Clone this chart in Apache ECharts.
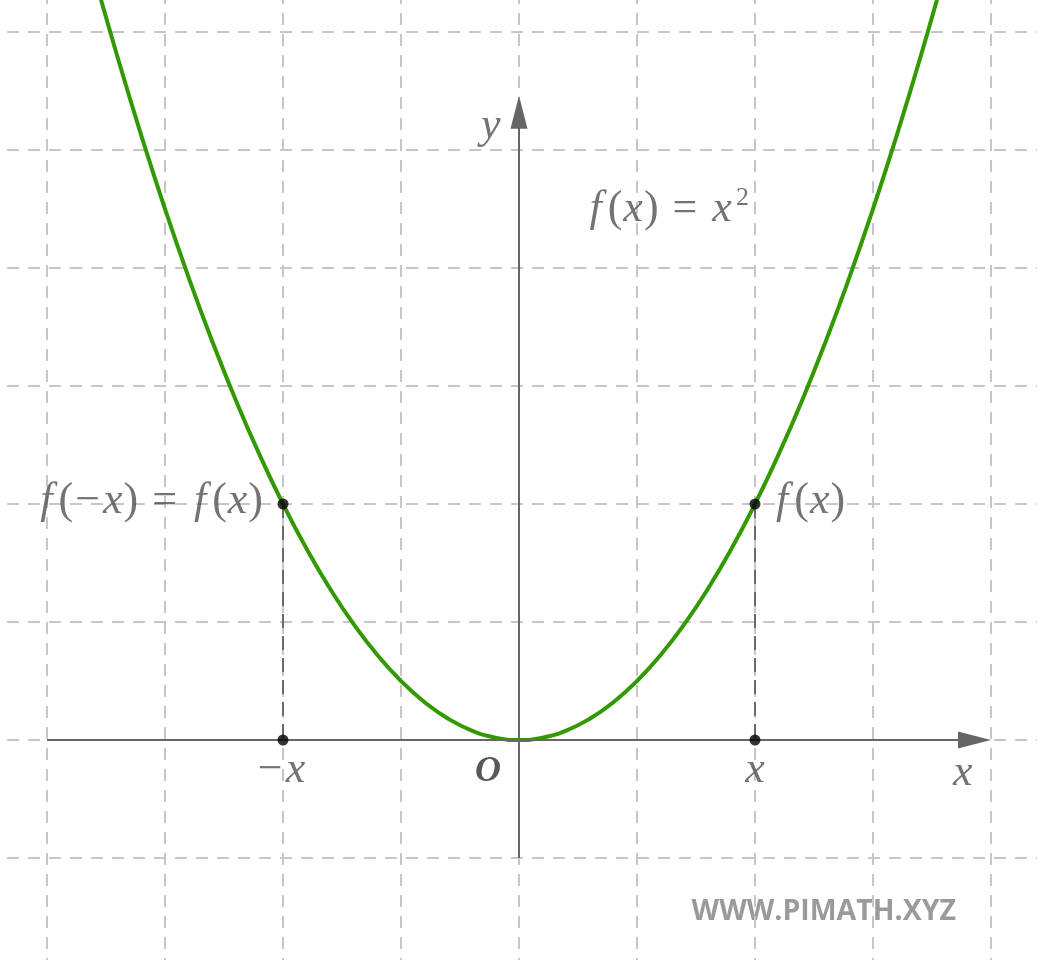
<!DOCTYPE html>
<html><head><meta charset="utf-8">
<script src="https://cdn.jsdelivr.net/npm/echarts@6/dist/echarts.min.js"></script>
<style>html,body{margin:0;padding:0;background:#fff}#c{width:1037px;height:960px}</style>
</head><body><div id="c"></div>
<script>
// sampled curve f(x) = x^2
const curveX = [-1.8,-1.7,-1.6,-1.5,-1.4,-1.3,-1.2,-1.1,-1.0,-0.9,-0.8,-0.7,-0.6,-0.5,-0.4,-0.3,-0.2,-0.1,0,0.1,0.2,0.3,0.4,0.5,0.6,0.7,0.8,0.9,1.0,1.1,1.2,1.3,1.4,1.5,1.6,1.7,1.8];
const curveY = [3.24,2.89,2.56,2.25,1.96,1.69,1.44,1.21,1.00,0.81,0.64,0.49,0.36,0.25,0.16,0.09,0.04,0.01,0,0.01,0.04,0.09,0.16,0.25,0.36,0.49,0.64,0.81,1.00,1.21,1.44,1.69,1.96,2.25,2.56,2.89,3.24];
// marked points
const pointX = [-1, 1, -1, 1];
const pointY = [1, 1, 0, 0];
// axes extents
const xAxisFrom = -2, xAxisTo = 1.93;
const yAxisFrom = -0.5, yAxisTo = 2.66;
// labels
const labelFuncText = '{f|f}{n|(}{i|x}{n|)}{op|=}{i|x}{s|2}';
const labelLeftText = '{f|f}{n|(}{m|−}{i|x}{n|)}{op|=}{f|f}{n|(}{i|x}{n|)}';
const labelRightText = '{f|f}{n|(}{i|x}{n|)}';

const font = 'Liberation Serif';
const txtCol = '#505050';
const fs = 44;
const rich = {
  f: {fontFamily: font, fontStyle: 'italic', fontSize: fs, color: txtCol, padding: [0, 6, 0, 3]},
  i: {fontFamily: font, fontStyle: 'italic', fontSize: fs, color: txtCol, padding: [0, 1, 0, 1]},
  n: {fontFamily: font, fontSize: fs, color: txtCol},
  m: {fontFamily: font, fontSize: fs, color: txtCol, padding: [0, 2, 0, 2]},
  op: {fontFamily: font, fontSize: fs, color: txtCol, padding: [0, 14, 0, 14]},
  s: {fontFamily: font, fontSize: 26, color: txtCol, padding: [0, 0, 22, 3], verticalAlign: 'bottom'},
  o: {fontFamily: font, fontStyle: 'italic', fontWeight: 'bold', fontSize: 36, color: '#2e2e2e'}
};

const chart = echarts.init(document.getElementById('c'));
const gridLine = {show: true, lineStyle: {color: '#c6c6c6', width: 2, type: [12, 9], dashOffset: 6}};
chart.setOption({
  animation: false,
  backgroundColor: '#fff',
  grid: {left: -71, top: -86, width: 1180, height: 1062, outerBoundsMode: 'none', containLabel: false},
  xAxis: {type: 'value', min: -2.5, max: 2.5, interval: 0.5,
    axisLine: {show: false}, axisTick: {show: false}, axisLabel: {show: false}, splitLine: gridLine},
  yAxis: {type: 'value', min: -1, max: 3.5, interval: 0.5,
    axisLine: {show: false}, axisTick: {show: false}, axisLabel: {show: false}, splitLine: gridLine},
  series: [
    {
      type: 'line', data: [], silent: true,
      markLine: {
        silent: true, symbol: ['none', 'triangle'], symbolSize: [17, 33],
        label: {show: false},
        lineStyle: {color: '#666', width: 2, type: 'solid'},
        emphasis: {disabled: true},
        data: [
          [{coord: [xAxisFrom, 0]}, {coord: [xAxisTo, 0]}],
          [{coord: [0, yAxisFrom]}, {coord: [0, yAxisTo]}]
        ]
      }
    },
    {
      type: 'line', data: [], silent: true,
      markLine: {
        silent: true, symbol: ['none', 'none'],
        label: {show: false},
        lineStyle: {color: '#6a6a6a', width: 2, type: [14, 8]},
        emphasis: {disabled: true},
        data: [
          [{coord: [pointX[0], pointY[0]]}, {coord: [pointX[2], pointY[2]]}],
          [{coord: [pointX[1], pointY[1]]}, {coord: [pointX[3], pointY[3]]}]
        ]
      }
    },
    {
      type: 'line', smooth: true, showSymbol: false, silent: true,
      lineStyle: {color: '#339900', width: 4},
      data: curveX.map((x, k) => [x, curveY[k]]),
      z: 3
    },
    {
      type: 'scatter', silent: true, symbolSize: 11,
      itemStyle: {color: '#000'},
      data: pointX.map((x, k) => [x, pointY[k]]),
      z: 5
    },
    {
      type: 'scatter', silent: true, symbolSize: 0, z: 6,
      label: {show: true, rich: rich},
      data: [
        {value: [pointX[0], pointY[0]], label: {position: 'left', distance: 20, offset: [0, -3], formatter: labelLeftText}},
        {value: [pointX[1], pointY[1]], label: {position: 'right', distance: 18, offset: [0, -3], formatter: labelRightText}},
        {value: [pointX[2], pointY[2]], label: {position: 'inside', offset: [-2, 30], formatter: '{m|−}{i|x}'}},
        {value: [pointX[3], pointY[3]], label: {position: 'inside', offset: [0, 30], formatter: '{i|x}'}},
        {value: [0, 0], label: {position: 'inside', offset: [-31, 32], formatter: '{o|O}'}},
        {value: [1.88, -0.14], label: {position: 'inside', formatter: '{i|x}'}},
        {value: [-0.12, 2.60], label: {position: 'inside', formatter: '{i|y}'}},
        {value: [0.63, 2.25], label: {position: 'inside', formatter: labelFuncText}}
      ]
    }
  ],
  graphic: [{
    type: 'text', right: 81, top: 897, silent: true,
    style: {text: 'WWW.PIMATH.XYZ', fontFamily: 'Open Sans', fontWeight: 'bold', fontSize: 28.5, fill: '#9a9a9a'}
  }]
});
</script></body></html>
